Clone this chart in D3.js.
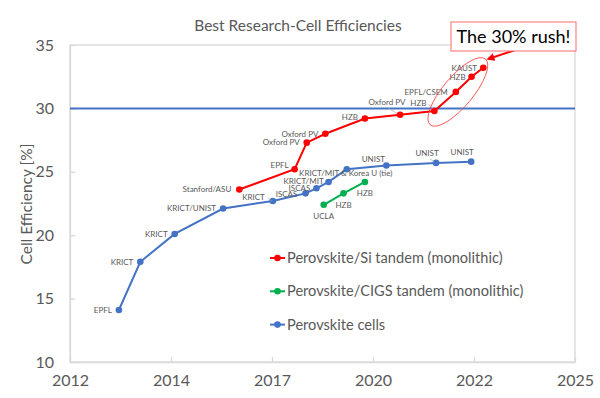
<!DOCTYPE html>
<html><head><meta charset="utf-8">
<script src="https://cdn.jsdelivr.net/npm/d3@7"></script>
<style>body{margin:0;background:#fff}svg{display:block}text{font-family:Lato,"Open Sans",sans-serif}</style>
</head><body><svg id="c" width="600" height="398"></svg>
<script>
// ---- data ----
const title = "Best Research-Cell Efficiencies";
const yTitle = "Cell Efficiency [%]";
const xTickValues = [2012.5, 2015, 2017.5, 2020, 2022.5, 2025];
const xTickLabels = ["2012", "2014", "2017", "2020", "2022", "2025"];
const yTickValues = [10, 15, 20, 25, 30, 35];
const threshold = 30;
const seriesNames = ["Perovskite/Si tandem (monolithic)", "Perovskite/CIGS tandem (monolithic)", "Perovskite cells"];

const siYears = [2016.69, 2018.06, 2018.36, 2018.82, 2019.80, 2020.67, 2021.52, 2022.05, 2022.44, 2022.73];
const siEff   = [23.6, 25.2, 27.3, 28.0, 29.2, 29.5, 29.8, 31.3, 32.5, 33.2];
const siLabels = ["Stanford/ASU", "EPFL", "Oxford PV", "Oxford PV", "HZB", "Oxford PV", "HZB", "EPFL/CSEM", "HZB", "KAUST"];

const cigsYears = [2018.78, 2019.27, 2019.80];
const cigsEff   = [22.4, 23.3, 24.2];
const cigsLabels = ["UCLA", "HZB", "HZB"];

const pskYears = [2013.71, 2014.24, 2015.09, 2016.29, 2017.52, 2018.33, 2018.60, 2018.90, 2019.35, 2020.33, 2021.56, 2022.43];
const pskEff   = [14.1, 17.9, 20.1, 22.1, 22.7, 23.3, 23.7, 24.2, 25.2, 25.5, 25.7, 25.8];
const pskLabels = ["EPFL", "KRICT", "KRICT", "KRICT/UNIST", "KRICT", "ISCAS", "ISCAS", "KRICT/MIT", "KRICT/MIT & Korea U (tie)", "UNIST", "UNIST", "UNIST"];

const calloutText = "The 30% rush!";

// ---- layout (positions/styles) ----
const colors = ["#ff0000", "#00b050", "#4472c4"];
const siLabelPos = [[-8,0,"end"],[-6,-4,"end"],[-7,0,"end"],[-7,0,"end"],[-7,-1,"end"],[-13,-13,"middle"],[-16,-8,"middle"],[-8,0,"end"],[-14,0,"middle"],[-19,0,"middle"]];
const cigsLabelPos = [[0,11,"middle"],[0,12,"middle"],[0,11,"middle"]];
const pskLabelPos = [[-7,0,"end"],[-7,0,"end"],[-7,0,"end"],[-7,0,"end"],[-8,-4,"end"],[-19,0.5,"middle"],[-17,-0.5,"middle"],[-25,-0.5,"middle"],[-1,3.5,"middle"],[-13,-6,"middle"],[-9,-10,"middle"],[-9,-9,"middle"]];

const svg = d3.select("#c");
const x = d3.scaleLinear().domain([2012.5, 2025]).range([70, 575]);
const y = d3.scaleLinear().domain([10, 35]).range([362, 45]);
const grey = "#595959", axisGrey = "#d9d9d9";

// plot border
svg.append("rect").attr("x", 70).attr("y", 45).attr("width", 505).attr("height", 317)
  .attr("fill", "none").attr("stroke", axisGrey).attr("stroke-width", 1.3);

// axes
const xAxis = d3.axisBottom(x).tickValues(xTickValues).tickFormat((d,i)=>xTickLabels[i]).tickSizeInner(-5).tickSizeOuter(0).tickPadding(13);
const gx = svg.append("g").attr("transform", "translate(0,362)").call(xAxis);
const yAxis = d3.axisLeft(y).tickValues(yTickValues).tickSizeInner(-5).tickSizeOuter(0).tickPadding(16);
const gy = svg.append("g").attr("transform", "translate(70,0)").call(yAxis);
[gx, gy].forEach(g => {
  g.select(".domain").attr("stroke", axisGrey).attr("stroke-width", 1.3);
  g.selectAll(".tick line").attr("stroke", axisGrey).attr("stroke-width", 1.3);
  g.selectAll(".tick text").attr("fill", grey).style("font-size", "16px").style("font-family", "Lato, sans-serif");
});

// title
svg.append("text").attr("x", 298).attr("y", 31).attr("text-anchor", "middle")
  .attr("fill", grey).style("font-size", "15.5px").text(title);
svg.append("text").attr("transform", "translate(32,204) rotate(-90)").attr("text-anchor", "middle")
  .attr("fill", grey).style("font-size", "15.5px").text(yTitle);

// 30% line
svg.append("line").attr("x1", x(2012.5)).attr("x2", x(2025)).attr("y1", y(threshold)).attr("y2", y(threshold))
  .attr("stroke", "#4472c4").attr("stroke-width", 2);

const series = [
  {xs: pskYears, ys: pskEff, labels: pskLabels, pos: pskLabelPos, color: colors[2]},
  {xs: cigsYears, ys: cigsEff, labels: cigsLabels, pos: cigsLabelPos, color: colors[1]},
  {xs: siYears, ys: siEff, labels: siLabels, pos: siLabelPos, color: colors[0]}
];
const line = d3.line().x(d => x(d[0])).y(d => y(d[1]));
series.forEach(s => {
  const pts = s.xs.map((v,i) => [v, s.ys[i]]);
  svg.append("path").attr("d", line(pts)).attr("fill", "none").attr("stroke", s.color).attr("stroke-width", 2);
  svg.selectAll(null).data(pts).enter().append("circle")
    .attr("cx", d => x(d[0])).attr("cy", d => y(d[1])).attr("r", 3.3).attr("fill", s.color);
  svg.selectAll(null).data(pts).enter().append("text")
    .attr("x", (d,i) => x(d[0]) + s.pos[i][0]).attr("y", (d,i) => y(d[1]) + s.pos[i][1])
    .attr("dy", "0.35em").attr("text-anchor", (d,i) => s.pos[i][2])
    .attr("fill", grey).style("font-size", "8px").text((d,i) => s.labels[i]);
});

// leader lines
const leaders = [[pskYears[4], pskEff[4], -5, -3, -1, 0], [siYears[5], siEff[5], -12, -7, -3, -1], [siYears[6], siEff[6], -6, -7, -2, -2], [pskYears[10], pskEff[10], -6, -4, -2, -1]];
leaders.forEach(l => {
  svg.append("line").attr("x1", x(l[0]) + l[2]).attr("y1", y(l[1]) + l[3]).attr("x2", x(l[0]) + l[4]).attr("y2", y(l[1]) + l[5])
    .attr("stroke", "#a6a6a6").attr("stroke-width", 0.7);
});

// legend
seriesNames.forEach((n, i) => {
  const ly = 258 + i * 33.3;
  svg.append("line").attr("x1", 270).attr("x2", 285).attr("y1", ly).attr("y2", ly).attr("stroke", colors[i]).attr("stroke-width", 2);
  svg.append("circle").attr("cx", 277.5).attr("cy", ly).attr("r", 3.3).attr("fill", colors[i]);
  svg.append("text").attr("x", 287).attr("y", ly).attr("dy", "0.35em").attr("fill", grey).style("font-size", "14.6px").text(n);
});

// ellipse highlighting the rush
svg.append("ellipse").attr("cx", 0).attr("cy", 0).attr("rx", 43).attr("ry", 15)
  .attr("transform", `translate(${x(2022.1)},${y(31.3)}) rotate(-50)`)
  .attr("fill", "none").attr("stroke", "#ff4040").attr("stroke-width", 0.8);

// arrow
const defs = svg.append("defs");
defs.append("marker").attr("id", "ah").attr("viewBox", "0 0 10 10").attr("refX", 8).attr("refY", 5)
  .attr("markerWidth", 4).attr("markerHeight", 4).attr("orient", "auto")
  .append("path").attr("d", "M0,0 L10,5 L0,10 z").attr("fill", "#ff0000");
svg.append("line").attr("x1", 514).attr("y1", 50.5).attr("x2", 488).attr("y2", 59)
  .attr("stroke", "#ff0000").attr("stroke-width", 2).attr("marker-end", "url(#ah)");

// callout box
svg.append("rect").attr("x", 451).attr("y", 22).attr("width", 125).attr("height", 29)
  .attr("fill", "#fff").attr("stroke", "#ff6b6b").attr("stroke-width", 1);
svg.append("text").attr("x", 513.5).attr("y", 43).attr("text-anchor", "middle")
  .attr("fill", "#000").style("font-size", "18px").text(calloutText);
</script></body></html>
